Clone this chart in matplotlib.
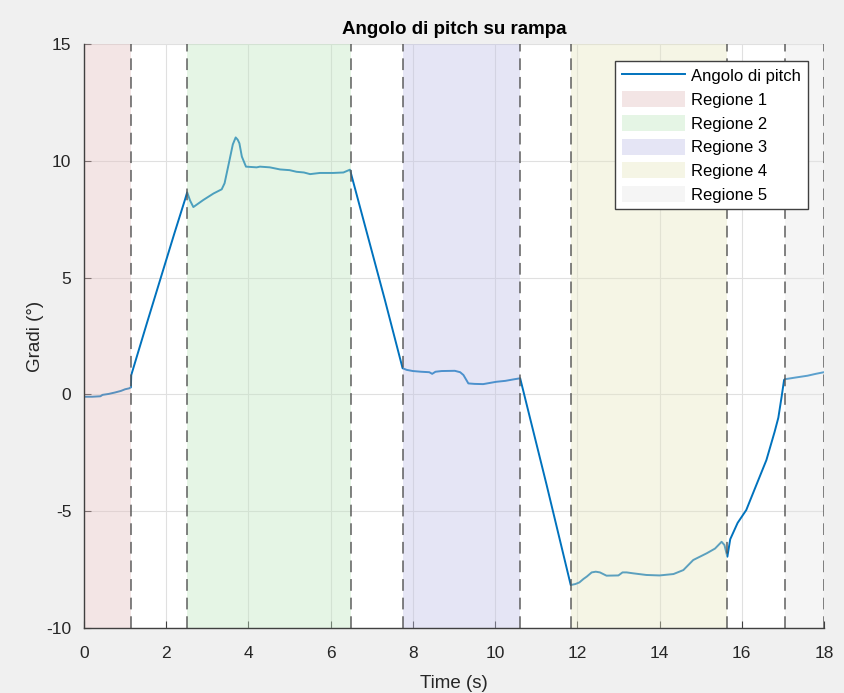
import matplotlib
matplotlib.use("Agg")
import matplotlib.pyplot as plt

plt.rcParams['font.family'] = ['Liberation Sans', 'DejaVu Sans']
plt.rcParams['axes.unicode_minus'] = False

# Pitch angle samples (time in s, angle in degrees)
time_s = [
    0.00, 0.20, 0.40, 0.45, 0.60, 0.75, 0.90, 1.00, 1.10, 1.14,
    1.15, 1.53, 1.93, 2.20, 2.45, 2.51,
    2.58, 2.66, 2.90, 3.15, 3.35, 3.42, 3.54, 3.62, 3.69, 3.74, 3.78, 3.84, 3.94,
    4.20, 4.28, 4.52, 4.77, 5.00, 5.17, 5.35, 5.50, 5.74, 6.06, 6.31, 6.47,
    7.32, 7.75,
    7.85, 8.00, 8.20, 8.40, 8.47, 8.55, 8.70, 9.02, 9.15, 9.23, 9.35, 9.50, 9.71,
    10.03, 10.25, 10.44, 10.61,
    11.25, 11.84,
    11.95, 12.05, 12.15, 12.23, 12.35, 12.45, 12.55, 12.71, 13.00, 13.10, 13.20,
    13.36, 13.68, 14.00, 14.34, 14.58, 14.82, 15.15, 15.35, 15.51, 15.58, 15.65,
    15.72, 15.90, 16.11, 16.35, 16.60, 16.80, 16.89, 16.97, 17.03,
    17.05, 17.30, 17.60, 17.80, 18.00,
]
pitch_deg = [
    -0.10, -0.10, -0.08, -0.02, 0.02, 0.08, 0.15, 0.22, 0.26, 0.30,
    0.83, 3.05, 5.35, 6.90, 8.30, 8.65,
    8.30, 8.02, 8.32, 8.60, 8.78, 9.04, 10.03, 10.70, 11.00, 10.90, 10.75, 10.18, 9.75,
    9.72, 9.75, 9.72, 9.63, 9.60, 9.53, 9.50, 9.43, 9.48, 9.48, 9.50, 9.62,
    4.04, 1.12,
    1.05, 1.00, 0.97, 0.95, 0.88, 0.97, 1.00, 1.01, 0.95, 0.83, 0.47, 0.45, 0.44,
    0.54, 0.58, 0.64, 0.69,
    -3.85, -8.16,
    -8.12, -8.05, -7.90, -7.80, -7.62, -7.59, -7.62, -7.76, -7.75, -7.62, -7.62,
    -7.66, -7.73, -7.75, -7.69, -7.52, -7.09, -6.80, -6.60, -6.31, -6.45, -6.95,
    -6.20, -5.50, -4.95, -3.90, -2.81, -1.60, -1.00, -0.10, 0.62,
    0.65, 0.72, 0.80, 0.88, 0.95,
]

# Analysis regions (start, end in seconds)
region_labels = ['Regione 1', 'Regione 2', 'Regione 3', 'Regione 4', 'Regione 5']
region_start = [0.00, 2.51, 7.76, 11.85, 17.06]
region_end = [1.14, 6.50, 10.61, 15.64, 18.00]
region_colors = ['#E3C0C0', '#C0E6C0', '#C0C0E6', '#E6E6C0', '#E6E6E6']

x_ticks = [0, 2, 4, 6, 8, 10, 12, 14, 16, 18]
y_ticks = [-10, -5, 0, 5, 10, 15]

fig = plt.figure(figsize=(8.45, 6.93), dpi=100, facecolor='#F0F0F0')
ax = fig.add_axes([0.0994, 0.0938, 0.8757, 0.8427])
ax.set_facecolor('white')

line, = ax.plot(time_s, pitch_deg, color='#0072BD', lw=1.4, zorder=2,
                label='Angolo di pitch')

patches = []
for s, e, c, lab in zip(region_start, region_end, region_colors, region_labels):
    p = ax.axvspan(s, e, facecolor=c, edgecolor='none', alpha=0.4, zorder=3,
                   label=lab)
    patches.append(p)

for xb in sorted(set(region_start + region_end)):
    ax.axvline(xb, color='#555555', lw=1.3, ls=(0, (6.5, 3.8)), alpha=0.8, zorder=4)

ax.set_xlim(0, 18)
ax.set_ylim(-10, 15)
ax.set_xticks(x_ticks)
ax.set_yticks(y_ticks)
ax.grid(True, color='#E0E0E0', lw=0.8, zorder=0)
ax.set_axisbelow(True)

for side in ['top', 'right']:
    ax.spines[side].set_visible(False)
for side in ['left', 'bottom']:
    ax.spines[side].set_color('#404040')
    ax.spines[side].set_linewidth(1.0)
    ax.spines[side].set_zorder(5)

ax.tick_params(direction='in', length=5, width=0.8, color='#404040',
               labelsize=12.5, labelcolor='#262626')
ax.tick_params(axis='x', pad=13)
ax.tick_params(axis='y', pad=9)

ax.set_title('Angolo di pitch su rampa', fontsize=13.5, fontweight='bold',
             color='black', pad=7)
ax.set_xlabel('Time (s)', fontsize=13.5, color='#262626', labelpad=10)
ax.set_ylabel('Gradi (°)', fontsize=13.5, color='#262626', labelpad=2)

leg = ax.legend(handles=[line] + patches, loc='upper right',
                bbox_to_anchor=(0.978, 0.971), borderaxespad=0,
                fontsize=12, fancybox=False, framealpha=1,
                edgecolor='#404040', handlelength=3.8, handleheight=1.1,
                labelspacing=0.42, borderpad=0.4, handletextpad=0.35)
leg.get_frame().set_linewidth(1.0)
leg.set_zorder(10)

fig.savefig('out.png', dpi=100, facecolor=fig.get_facecolor())
